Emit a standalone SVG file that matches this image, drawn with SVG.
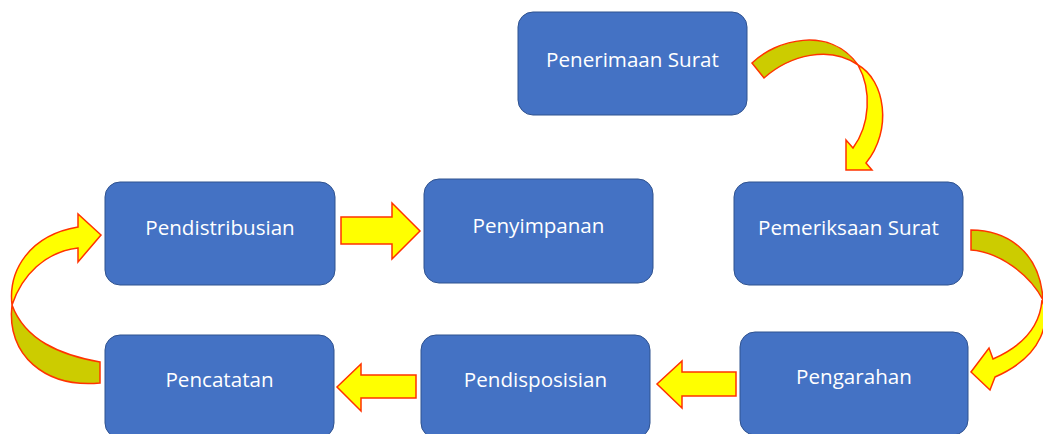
<svg xmlns="http://www.w3.org/2000/svg" width="1043" height="434" viewBox="0 0 1043 434">
<style>
.box{fill:#4472C4;stroke:#2F528F;stroke-width:1}
.lbl{font-family:"Open Sans","Noto Sans","Liberation Sans",sans-serif;font-size:20.6px;fill:#FFFFFF;text-anchor:middle}
.front{fill:#FFFF00;stroke:#FF3300;stroke-width:1.5;stroke-linejoin:miter}
.back{fill:#CCCC00;stroke:#FF3300;stroke-width:1.5;stroke-linejoin:miter}
</style>
<rect width="1043" height="434" fill="#FFFFFF"/>
<g id="connectors">
  <path class="back" d="M752,63 C775,40 830,25 858,65 C830,45 790,55 764,78 Z"/>
  <path class="front" d="M858,65 C885,80 893,130 866,163 L872,170 L846,170 L846,140 L853,148 C870,125 872,90 858,65 Z"/>
  <path class="back" d="M971,230 C1005,230 1040,250 1043,300 C1030,275 1000,252 971,250 Z"/>
  <path class="front" d="M1042,300 C1050,320 1045,355 995,377 L990,390 L971,372 L989,348 L993,359 C1025,345 1040,325 1042,300 Z"/>
  <path class="back" d="M100,362 C60,355 25,340 12,305 C6,355 45,388 100,383 Z"/>
  <path class="front" d="M12,305 C8,270 30,235 78,227 L78,214 L101,235 L78,262 L78,248 C45,252 22,275 12,305 Z"/>
  <path class="front" d="M341,217 L392,217 L392,203 L420,231 L392,259 L392,244 L341,244 Z"/>
  <path class="front" d="M416,375 L361,375 L361,364 L337,387 L361,411 L361,398 L416,398 Z"/>
  <path class="front" d="M736,372 L682,372 L682,361 L657,384 L682,408 L682,396 L736,396 Z"/>
</g>
<g id="penerimaan">
  <rect class="box" x="518" y="12" width="229" height="103" rx="15"/>
  <text class="lbl" x="632.5" y="67">Penerimaan Surat</text>
</g>
<g id="pemeriksaan">
  <rect class="box" x="734" y="182" width="229" height="103" rx="15"/>
  <text class="lbl" x="848.5" y="235">Pemeriksaan Surat</text>
</g>
<g id="pendistribusian">
  <rect class="box" x="105" y="182" width="230" height="103" rx="15"/>
  <text class="lbl" x="220" y="235">Pendistribusian</text>
</g>
<g id="penyimpanan">
  <rect class="box" x="424" y="179" width="229" height="104" rx="15"/>
  <text class="lbl" x="538.5" y="233">Penyimpanan</text>
</g>
<g id="pengarahan">
  <rect class="box" x="740" y="332" width="228" height="103" rx="15"/>
  <text class="lbl" x="854" y="384">Pengarahan</text>
</g>
<g id="pencatatan">
  <rect class="box" x="105" y="335" width="229" height="103" rx="15"/>
  <text class="lbl" x="219.5" y="387">Pencatatan</text>
</g>
<g id="pendisposisian">
  <rect class="box" x="421" y="335" width="229" height="103" rx="15"/>
  <text class="lbl" x="535.5" y="387">Pendisposisian</text>
</g>
</svg>
